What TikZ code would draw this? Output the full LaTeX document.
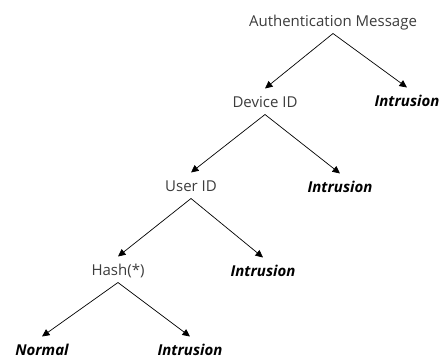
\documentclass[tikz,border=0pt]{standalone}
\usepackage{fontspec}
\setmainfont{Open Sans}
\usetikzlibrary{arrows.meta}

\definecolor{labelgray}{RGB}{60,60,60}

\begin{document}
\begin{tikzpicture}[x=1pt, y=-1pt,
    step label/.style={text=labelgray, font=\fontsize{15}{18}\selectfont,
        anchor=base, inner sep=0pt, text height=11pt, text depth=0pt, outer ysep=7.5pt},
    verdict/.style={step label, text=black, font=\fontsize{15}{18}\selectfont\bfseries\itshape},
    branch/.style={-{Triangle[length=7.5pt,width=7pt]}, line width=0.7pt}]
        \useasboundingbox (0,0) rectangle (445,360);

        % Check levels
        \node[step label] (auth) at (333,26) {Authentication Message};
        \node[step label] (device) at (265,107) {Device ID};
        \node[step label] (user) at (191,191) {User ID};
        \node[step label] (hash) at (118,275) {Hash(*)};

        % Outcomes
        \node[verdict] (intr1) at (407,106) {Intrusion};
        \node[verdict] (intr2) at (340,192) {Intrusion};
        \node[verdict] (intr3) at (263,276) {Intrusion};
        \node[verdict] (normal) at (42,355) {Normal};
        \node[verdict] (intr4) at (190,355) {Intrusion};

        % Branches
        \draw[branch] (auth.south) -- (device.north);
        \draw[branch] (auth.south) -- (intr1.north);
        \draw[branch] (device.south) -- (user.north);
        \draw[branch] (device.south) -- (intr2.north);
        \draw[branch] (user.south) -- (hash.north);
        \draw[branch] (user.south) -- (intr3.north);
        \draw[branch] (hash.south) -- (normal.north);
        \draw[branch] (hash.south) -- (intr4.north);
    \end{tikzpicture}
\end{document}
